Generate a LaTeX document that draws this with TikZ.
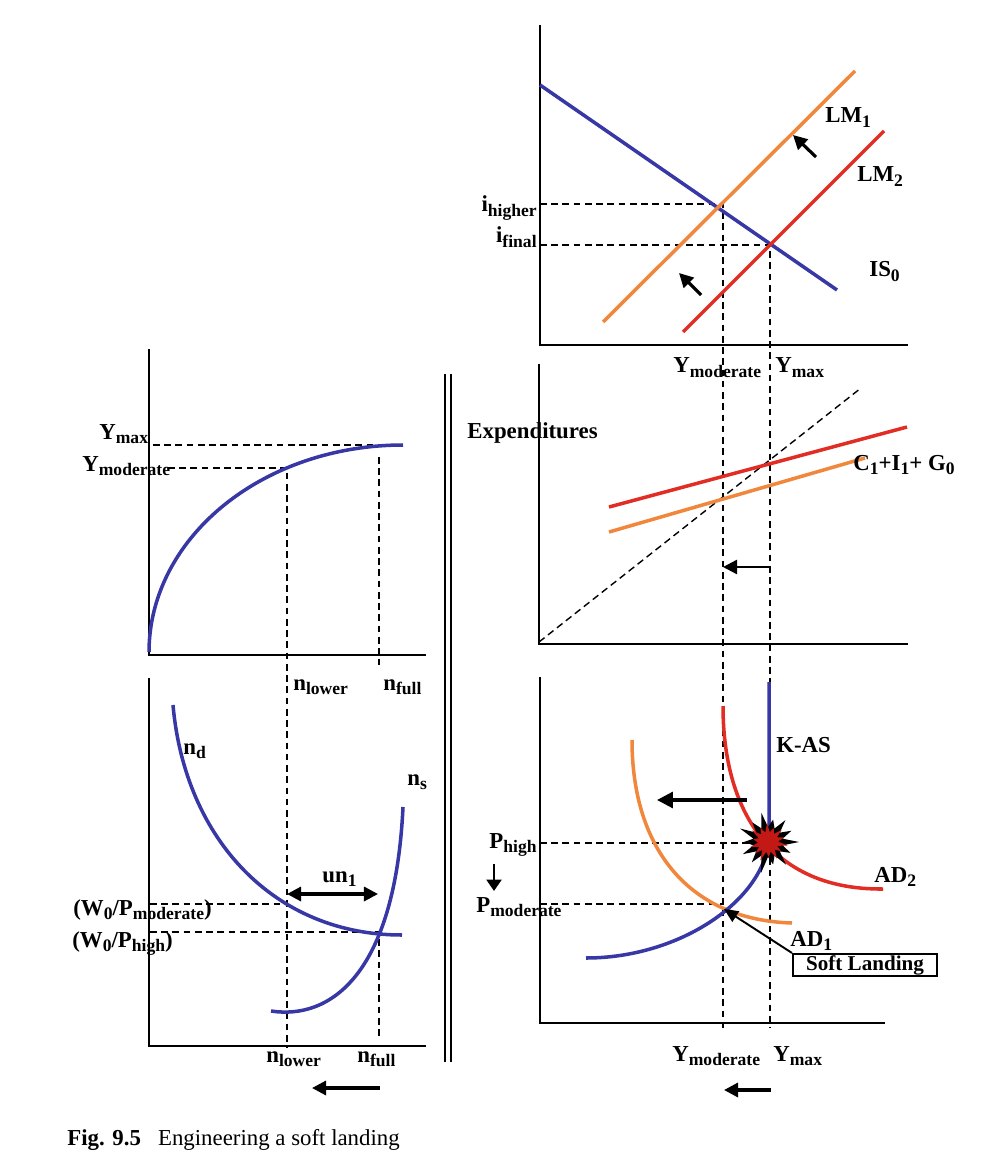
\documentclass[tikz,border=0pt]{standalone}
\usepackage{fontspec}
\setmainfont{Liberation Serif}
\usepackage{tikz}
\usetikzlibrary{arrows.meta, shadows}
\definecolor{isblue}{RGB}{55,55,165}
\definecolor{lmorange}{RGB}{240,135,60}
\definecolor{lmred}{RGB}{225,45,35}
\definecolor{starred}{RGB}{195,25,20}
\newcommand{\sub}[1]{\raisebox{-2.4pt}{\fontsize{10}{12}\selectfont #1}}

\begin{document}
\begin{tikzpicture}[x=0.02cm, y=-0.02cm,
    axisline/.style={line width=1.2pt},
    curve/.style={line width=2pt},
    guide/.style={line width=1.5pt, dash pattern=on 3.8pt off 2.6pt},
    shiftarrow/.style={line width=1.8pt, -{Triangle[length=8pt,width=8pt]}},
    lab/.style={font=\fontsize{13}{15}\selectfont\bfseries, inner sep=0pt}]
    \useasboundingbox (0,0) rectangle (1000,1175);
    % Parametri
    \pgfmathsetmacro{\ymod}{723}
    \pgfmathsetmacro{\ymax}{770}
    \pgfmathsetmacro{\nlow}{287}
    \pgfmathsetmacro{\nfull}{379}
    % Separatore
    \draw[line width=1pt] (445,374) -- (445,1062);
    \draw[line width=1pt] (451,374) -- (451,1062);
    % IS-LM
    \draw[guide] (540,204) -- (\ymod,204) -- (\ymod,1028);
    \draw[guide] (540,245) -- (\ymax,245) -- (\ymax,1028);
    \draw[axisline] (540,25) -- (540,345) -- (908,345);
    \draw[curve, isblue] (540,85) -- (837,290);
    \draw[curve, lmorange] (603,322) -- (855,71);
    \draw[curve, lmred] (683,332) -- (884,131);
    \coordinate (lmA) at (816,157);
    \coordinate (lmB) at (793,135);
    \coordinate (lmC) at (701,295);
    \coordinate (lmD) at (679,273);
    \draw[shiftarrow] (lmA) -- (lmB);
    \draw[shiftarrow] (lmC) -- (lmD);
    \node[lab, anchor=base east] (ihigh) at (537,212) {i\sub{higher}};
    \node[lab, anchor=base east] (ifinal) at (537,243) {i\sub{final}};
    \node[lab, anchor=base west] (lm1) at (825,123) {LM\sub{1}};
    \node[lab, anchor=base west] (lm2) at (857,182) {LM\sub{2}};
    \node[lab, anchor=base west] (is0) at (869,277) {IS\sub{0}};
    \node[lab, anchor=base west] (ymodtop) at (673,373) {Y\sub{moderate}};
    \node[lab, anchor=base west] (ymaxtop) at (775,373) {Y\sub{max}};
    % Spesa
    \draw[axisline] (539,364) -- (539,644) -- (908,644);
    \draw[line width=0.8pt, dash pattern=on 4pt off 2.5pt] (539,642) -- (861,388);
    \draw[curve, lmred] (609,507) -- (907,427);
    \draw[curve, lmorange] (609,532) -- (865,458);
    \coordinate (exA) at (770,567);
    \coordinate (exB) at (723,567);
    \draw[shiftarrow, line width=1.4pt] (exA) -- (exB);
    \node[lab, anchor=base west] (expend) at (467,438) {Expenditures};
    \node[lab, anchor=base west] (cig) at (853,470) {C\sub{1}+I\sub{1}+ G\sub{0}};
    % AD-AS
    \draw[axisline] (540,677) -- (540,1023) -- (885,1023);
    \draw[guide] (540,843) -- (769,843);
    \draw[guide] (540,904) -- (\ymod,904);
    \draw[curve, lmorange] (632,740) .. controls (632,850) and (690,920) .. (792,923);
    \draw[curve, lmred] (723,706) .. controls (723,810) and (770,890) .. (883,889);
    \draw[curve, isblue] (586,958) .. controls (680,958) and (765,900) .. (769,838) -- (769,682);
    \begin{scope}[shift={(768,842)}]
        \fill[black] (0:31) \foreach \i/\r in {1/25,2/29,3/23,4/32,5/26,6/28,7/24,8/31,9/25,10/30,11/23,12/28,13/26}
            { -- ({\i*360/14-360/28}:15) -- ({\i*360/14}:\r) } -- (-360/28:15) -- cycle;
        \fill[starred] (10:20) \foreach \i/\r in {1/16,2/19,3/15,4/20,5/17,6/18,7/15,8/20,9/16,10/19,11/15,12/18,13/17}
            { -- ({\i*360/14+10-360/28}:10) -- ({\i*360/14+10}:\r) } -- ({10-360/28}:10) -- cycle;
    \end{scope}
    \coordinate (adA) at (747,800);
    \coordinate (adB) at (657,800);
    \draw[shiftarrow, -{Triangle[length=9pt,width=9pt]}] (adA) -- (adB);
    \coordinate (pA) at (494,864);
    \coordinate (pB) at (494,891);
    \draw[shiftarrow, line width=1.4pt, -{Triangle[length=6.5pt,width=8.5pt]}] (pA) -- (pB);
    \coordinate (land) at (724,909);
    \node[draw, fill=white, line width=1.2pt, drop shadow={shadow xshift=0.8pt, shadow yshift=-0.8pt, fill=black, opacity=1},
        font=\fontsize{12}{14}\selectfont\bfseries, minimum width=144*0.02cm, minimum height=22*0.02cm, inner sep=0pt] (soft) at (865,965) {Soft Landing};
    \draw[line width=1.1pt, -{Triangle[length=8pt,width=7pt]}] (soft.north west) -- (land);
    \node[lab, anchor=base west] (kas) at (776,752) {K-AS};
    \node[lab, anchor=base west] (ad2) at (874,882) {AD\sub{2}};
    \node[lab, anchor=base west] (ad1) at (790,946) {AD\sub{1}};
    \node[lab, anchor=base east] (phigh) at (537,848) {P\sub{high}};
    \node[lab, anchor=base west] (pmod) at (476,912) {P\sub{moderate}};
    \node[lab, anchor=base west] (ymodbot) at (672,1061) {Y\sub{moderate}};
    \node[lab, anchor=base west] (ymaxbot) at (773,1061) {Y\sub{max}};
    \coordinate (ybA) at (771,1090);
    \coordinate (ybB) at (724,1090);
    \draw[shiftarrow] (ybA) -- (ybB);
    % Funzione di produzione
    \draw[axisline] (149,349) -- (149,655) -- (426,655);
    \draw[guide] (153,445) -- (403,445);
    \draw[guide] (168,468) -- (\nlow,468) -- (\nlow,1048);
    \draw[guide] (\nfull,457) -- (\nfull,665);
    \draw[curve, isblue] plot[domain=0:90, samples=40, smooth] ({403-254*cos(\x)}, {652-207*sin(\x)});
    \node[lab, anchor=base west] (ymaxl) at (99,439) {Y\sub{max}};
    \node[lab, anchor=base west] (ymodl) at (82,471) {Y\sub{moderate}};
    \node[lab, anchor=base west] (nlowtop) at (293,690) {n\sub{lower}};
    \node[lab, anchor=base west] (nfulltop) at (383,690) {n\sub{full}};
    % Mercato del lavoro
    \draw[axisline] (149,678) -- (149,1046) -- (426,1046);
    \draw[guide] (150,904) -- (\nlow,904);
    \draw[guide] (150,932) -- (\nfull,932) -- (\nfull,1040);
    \draw[curve, isblue] (173,705) .. controls (185,840) and (275,935) .. (402,935);
    \draw[curve, isblue] (271,1011) .. controls (330,1020) and (395,975) .. (403,807);
    \coordinate (unA) at (\nlow,894);
    \coordinate (unB) at (378,894);
    \draw[line width=1.8pt, {Triangle[length=8pt,width=8pt]}-{Triangle[length=8pt,width=8pt]}] (unA) -- (unB);
    \node[lab, anchor=base west] (nd) at (183,754) {n\sub{d}};
    \node[lab, anchor=base west] (ns) at (407,785) {n\sub{s}};
    \node[lab, anchor=base west] (un) at (322,882) {un\sub{1}};
    \node[lab, anchor=base west] (wpmod) at (73,915) {(W\sub{0}/P\sub{moderate})};
    \node[lab, anchor=base west] (wphigh) at (72,947) {(W\sub{0}/P\sub{high})};
    \node[lab, anchor=base west] (nlowbot) at (266,1062) {n\sub{lower}};
    \node[lab, anchor=base west] (nfullbot) at (357,1062) {n\sub{full}};
    \coordinate (nbA) at (380,1088);
    \coordinate (nbB) at (312,1088);
    \draw[shiftarrow] (nbA) -- (nbB);
    % Didascalia
    \node[anchor=base west, inner sep=0pt, font=\fontsize{13}{15}\selectfont] (cap) at (67,1145) {\textbf{Fig. 9.5}\hspace{0.75em}Engineering a soft landing};
\end{tikzpicture}
\end{document}
